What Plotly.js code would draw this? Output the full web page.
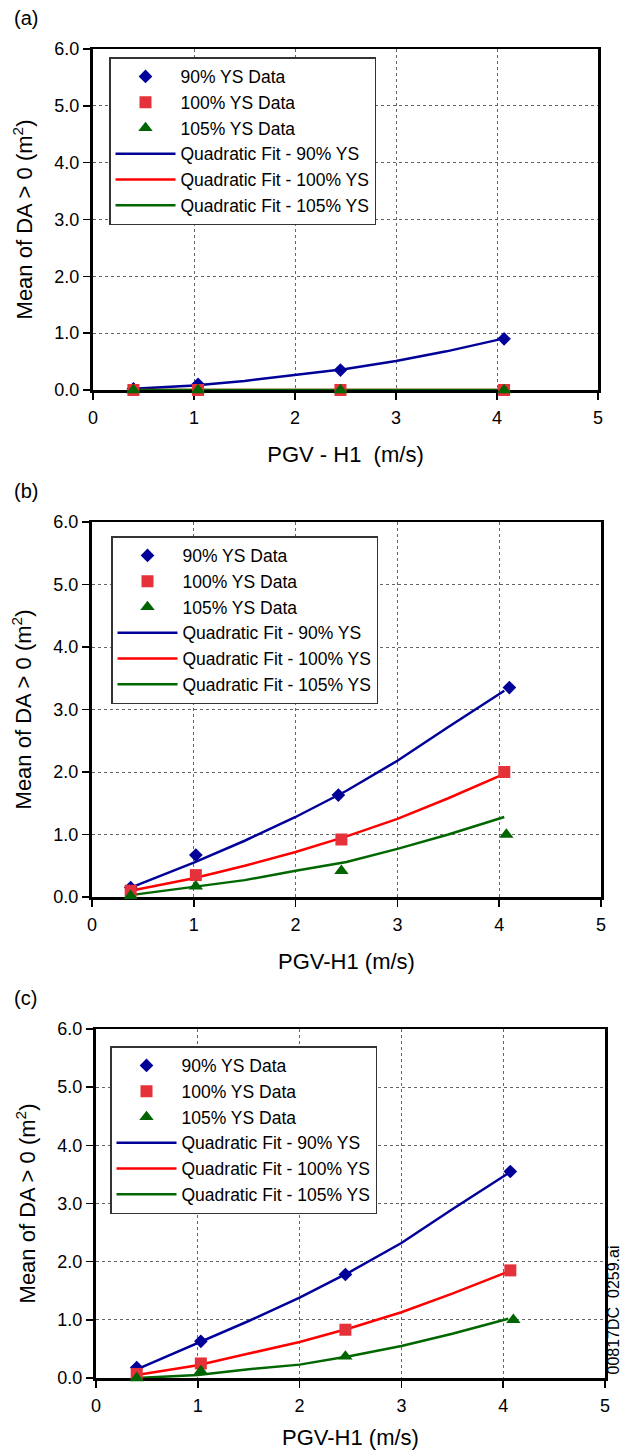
<!DOCTYPE html>
<html>
<head>
<meta charset="utf-8">
<script src="https://cdn.plot.ly/plotly-3.0.1.min.js"></script>
<style>html,body{margin:0;padding:0;background:#fff;}#chart{width:621px;height:1450px;}</style>
</head>
<body>
<div id="chart"></div>
<script>
// ---------- data ----------
const panelLabels = ["(a)", "(b)", "(c)"];
const xTitles = ["PGV - H1\u00a0 (m/s)", "PGV-H1 (m/s)", "PGV-H1 (m/s)"];
const yTitle = "Mean of DA > 0 (m<sup>2</sup>)";
const seriesNames = ["90% YS Data", "100% YS Data", "105% YS Data"];
const fitNames = ["Quadratic Fit - 90% YS", "Quadratic Fit - 100% YS", "Quadratic Fit - 105% YS"];
const sideNote = "00817DC\u00a0 0259.ai";

// Panel (a)
const a_x90 = [0.40, 1.04, 2.45, 4.07];
const a_y90 = [0.02, 0.10, 0.35, 0.90];
const a_x100 = [0.40, 1.04, 2.45, 4.07];
const a_y100 = [0.0, 0.0, 0.0, 0.0];
const a_x105 = [0.40, 1.04, 2.45, 4.07];
const a_y105 = [0.0, 0.0, 0.0, 0.0];
const a_fitX = [0.40, 1.0, 1.5, 2.0, 2.5, 3.0, 3.5, 4.05];
const a_fit90 = [0.02, 0.08, 0.16, 0.26, 0.37, 0.51, 0.68, 0.90];
const a_fit100 = [0.0, 0.0, 0.0, 0.0, 0.0, 0.0, 0.0, 0.0];
const a_fit105 = [0.0, 0.0, 0.0, 0.0, 0.0, 0.0, 0.0, 0.0];

// Panel (b)
const b_x90 = [0.38, 1.02, 2.42, 4.10];
const b_y90 = [0.15, 0.67, 1.63, 3.35];
const b_x100 = [0.38, 1.02, 2.45, 4.05];
const b_y100 = [0.10, 0.35, 0.92, 2.00];
const b_x105 = [0.38, 1.02, 2.45, 4.07];
const b_y105 = [0.02, 0.17, 0.42, 1.00];
const b_fitX = [0.38, 1.0, 1.5, 2.0, 2.5, 3.0, 3.5, 4.05];
const b_fit90 = [0.15, 0.55, 0.90, 1.28, 1.70, 2.18, 2.72, 3.30];
const b_fit100 = [0.10, 0.30, 0.50, 0.72, 0.97, 1.25, 1.58, 1.97];
const b_fit105 = [0.03, 0.16, 0.27, 0.42, 0.56, 0.77, 1.00, 1.28];

// Panel (c)
const c_x90 = [0.40, 1.03, 2.45, 4.07];
const c_y90 = [0.18, 0.63, 1.78, 3.55];
const c_x100 = [0.40, 1.03, 2.45, 4.07];
const c_y100 = [0.07, 0.25, 0.83, 1.85];
const c_x105 = [0.40, 1.03, 2.45, 4.10];
const c_y105 = [0.00, 0.12, 0.37, 1.00];
const c_fitX = [0.40, 1.0, 1.5, 2.0, 2.5, 3.0, 3.5, 4.05];
const c_fit90 = [0.15, 0.60, 0.98, 1.38, 1.83, 2.32, 2.90, 3.52];
const c_fit100 = [0.05, 0.22, 0.42, 0.62, 0.86, 1.13, 1.45, 1.83];
const c_fit105 = [0.00, 0.05, 0.15, 0.23, 0.38, 0.55, 0.76, 1.02];

const yTickVals = [0, 1, 2, 3, 4, 5, 6];
const yTickText = ["0.0", "1.0", "2.0", "3.0", "4.0", "5.0", "6.0"];
const xTickVals = [0, 1, 2, 3, 4, 5];

// ---------- styling ----------
const W = 621, H = 1450;
const FONT = "Liberation Sans, Arial, sans-serif";
const colors = ["#000099", "#FF0000", "#006600"];
const markerColors = ["#000099", "#E5313A", "#006400"];
const symbols = ["diamond", "square", "triangle-up"];
const markerSizes = [10.5, 12, 12.5];

const panels = [
  {data: [[a_x90, a_y90], [a_x100, a_y100], [a_x105, a_y105]], fitX: a_fitX, fits: [a_fit90, a_fit100, a_fit105],
   left: 93, right: 598, top: 49, bottom: 390, legLeft: 109, legTop: 57},
  {data: [[b_x90, b_y90], [b_x100, b_y100], [b_x105, b_y105]], fitX: b_fitX, fits: [b_fit90, b_fit100, b_fit105],
   left: 92, right: 601, top: 522, bottom: 897, legLeft: 111, legTop: 536},
  {data: [[c_x90, c_y90], [c_x100, c_y100], [c_x105, c_y105]], fitX: c_fitX, fits: [c_fit90, c_fit100, c_fit105],
   left: 96, right: 605, top: 1029, bottom: 1378, legLeft: 110, legTop: 1046}
];

const traces = [];
const layout = {
  width: W, height: H,
  margin: {l: 0, r: 0, t: 0, b: 0},
  paper_bgcolor: "#fff", plot_bgcolor: "#fff",
  font: {family: FONT, color: "#000"},
  showlegend: true,
  annotations: []
};

panels.forEach((p, i) => {
  const n = i === 0 ? "" : String(i + 1);
  const xa = "x" + n, ya = "y" + n;
  const legName = "legend" + n;
  for (let k = 0; k < 3; k++) {
    traces.push({
      type: "scatter", mode: "lines", x: p.fitX, y: p.fits[k], xaxis: xa, yaxis: ya,
      name: fitNames[k], legend: legName, legendrank: 10 + k,
      line: {color: colors[k], width: 2.5}, cliponaxis: false, hoverinfo: "skip"
    });
  }
  for (let k = 0; k < 3; k++) {
    traces.push({
      type: "scatter", mode: "markers", x: p.data[k][0], y: p.data[k][1], xaxis: xa, yaxis: ya,
      name: seriesNames[k], legend: legName, legendrank: k,
      marker: {symbol: symbols[k], size: markerSizes[k], color: markerColors[k], line: {width: 0}},
      cliponaxis: false
    });
  }
  const common = {
    showline: true, linecolor: "#000", mirror: true, layer: "below traces",
    ticks: "outside", ticklen: 7, tickwidth: 1.5, tickcolor: "#000",
    showgrid: true, gridcolor: "#666", griddash: "3px,3px", gridwidth: 1,
    zeroline: false, tickfont: {size: 18, family: FONT}
  };
  layout["xaxis" + n] = Object.assign({}, common, {
    domain: [p.left / W, p.right / W], anchor: ya, range: [0, 5], tickvals: xTickVals,
    linewidth: 2.5, ticklabelstandoff: 3,
    title: {text: xTitles[i], font: {size: 22, family: FONT}, standoff: 20}
  });
  layout["yaxis" + n] = Object.assign({}, common, {
    domain: [1 - p.bottom / H, 1 - p.top / H], anchor: xa, range: [0, 6],
    tickvals: yTickVals, ticktext: yTickText, linewidth: 3,
    title: {text: yTitle, font: {size: 22, family: FONT}, standoff: 16}
  });
  layout[legName] = {
    x: p.legLeft / W, y: 1 - p.legTop / H, xanchor: "left", yanchor: "top",
    xref: "paper", yref: "paper",
    bgcolor: "#fff", bordercolor: "#333", borderwidth: 1.5,
    font: {size: 17.5, family: FONT, color: "#000"},
    itemwidth: 60, traceorder: "normal",
    itemclick: false, itemdoubleclick: false
  };
  layout.annotations.push({
    text: panelLabels[i], xref: "paper", yref: "paper",
    x: 12 / W, y: 1 - (p.top - 31) / H, xanchor: "left", yanchor: "middle",
    showarrow: false, font: {size: 20, family: FONT}
  });
});

layout.annotations.push({
  text: sideNote, xref: "paper", yref: "paper",
  x: 613 / W, y: 1 - 1377 / H, xanchor: "center", yanchor: "bottom",
  textangle: -90, showarrow: false, font: {size: 16, family: FONT}
});

Plotly.newPlot("chart", traces, layout, {staticPlot: true, displayModeBar: false});
</script>
</body>
</html>
